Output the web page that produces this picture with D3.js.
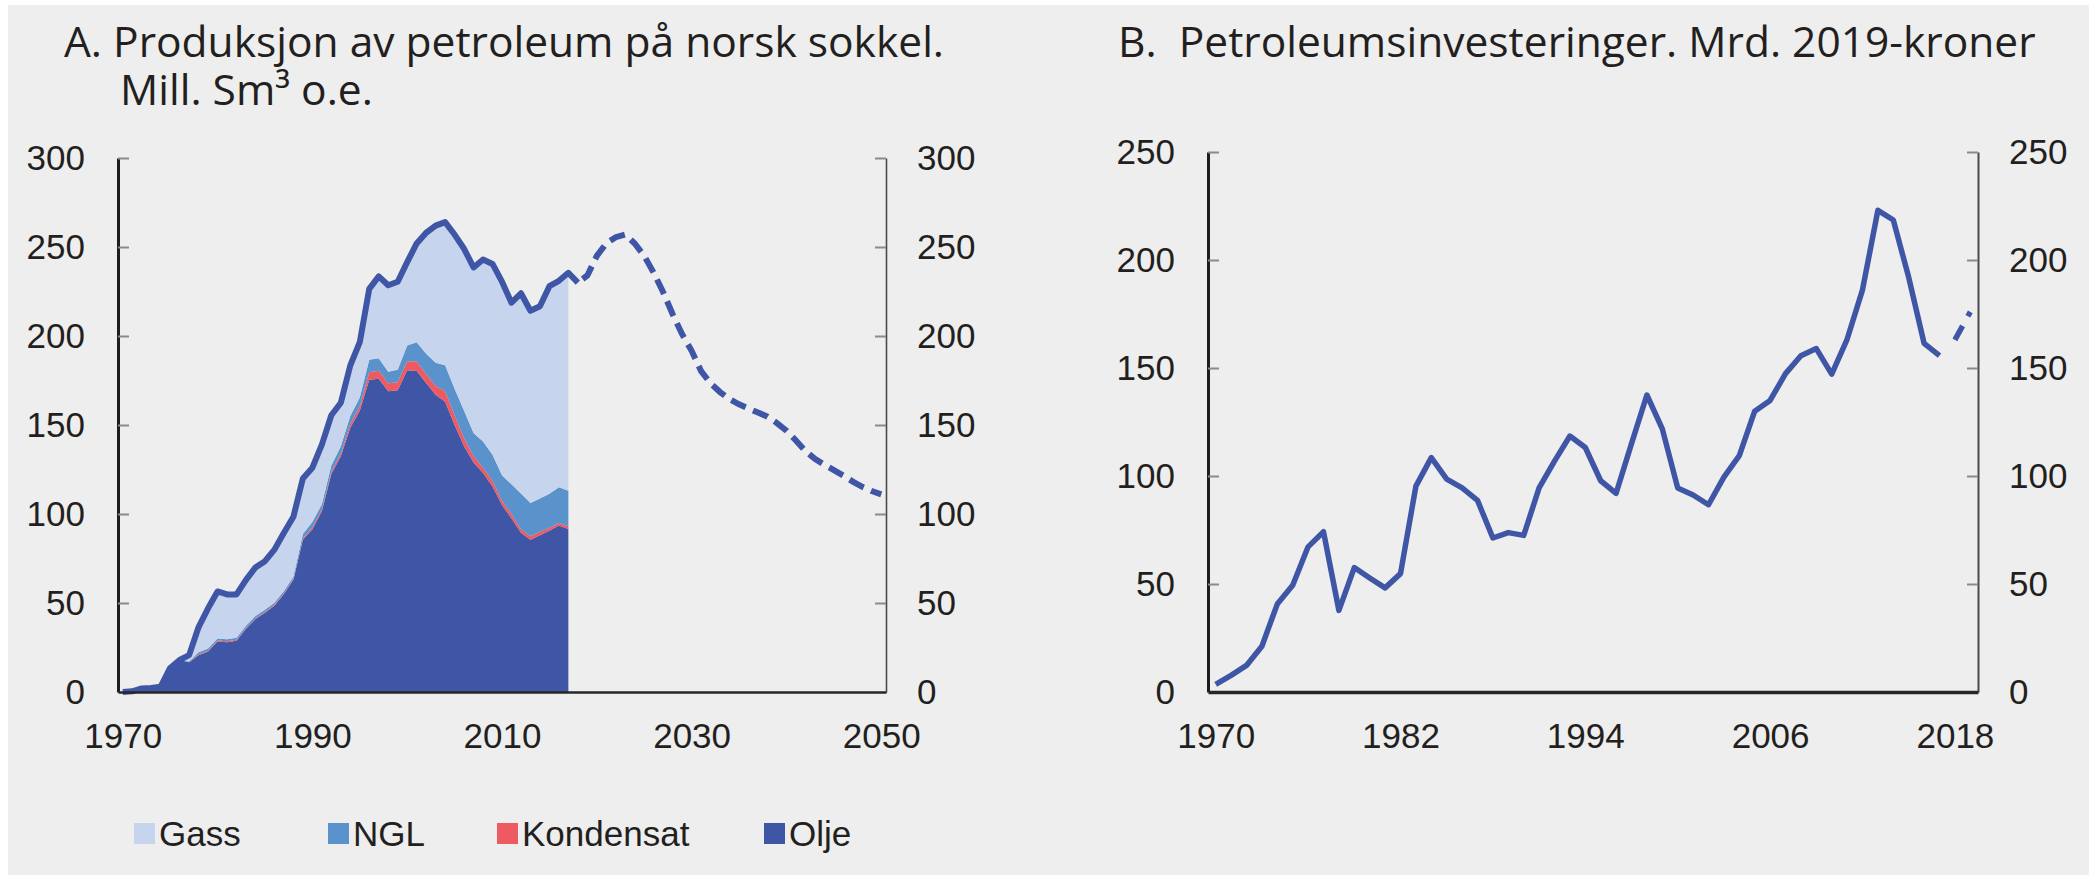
<!DOCTYPE html>
<html>
<head>
<meta charset="utf-8">
<script src="https://cdn.jsdelivr.net/npm/d3@7"></script>
<style>
    body { margin: 0; background: #fff; }
    text { font-family: "Liberation Sans", Arial, sans-serif; font-size: 35px; fill: #231f20; }
    .title { font-family: "Open Sans", sans-serif; font-size: 42.5px; white-space: pre; }
</style>
</head>
<body>
<svg id="chart" width="2089" height="880"></svg>
<script>
// Panel A: production on the Norwegian shelf, mill. Sm3 o.e.
const prodYears = d3.range(1970, 2018);
const olje = [0, 0.4, 2.0, 2.2, 3.0, 13.5, 18.0, 16.7, 20.7, 22.7,
    28.4, 28.0, 28.8, 35.5, 41.0, 44.5, 48.5, 55.0, 63.0, 85.5,
    91.5, 101.5, 122.5, 132.5, 148.5, 158.0, 175.4, 176.0, 168.9, 169.5,
    180.8, 180.4, 173.6, 167.0, 163.0, 150.0, 138.0, 129.0, 123.0, 115.5,
    105.0, 97.5, 89.5, 85.5, 88.0, 90.6, 93.5, 91.6];
const kondensat = [0, 0, 0, 0, 0, 0, 0, 0, 0.5, 0.5,
    0.5, 0.5, 0.5, 0.5, 0.5, 0.5, 0.5, 0.5, 0.5, 0.8,
    1.0, 1.0, 1.2, 1.5, 2.0, 2.5, 4.3, 4.5, 4.5, 4.5,
    5.0, 5.3, 5.0, 5.0, 6.0, 5.5, 4.5, 3.5, 3.0, 3.0,
    2.5, 2.5, 2.0, 2.0, 2.0, 1.5, 1.5, 1.5];
const ngl = [0, 0, 0, 0, 0, 0, 0, 0.5, 1.2, 1.2,
    1.2, 1.2, 1.2, 1.2, 1.2, 1.2, 1.2, 1.2, 1.2, 2.5,
    3.0, 3.0, 3.5, 4.0, 4.5, 5.0, 6.9, 7.0, 6.5, 7.0,
    8.9, 10.8, 11.4, 13.0, 14.5, 14.8, 15.5, 13.0, 14.8, 14.8,
    14.2, 16.7, 20.0, 18.7, 18.7, 19.3, 20.0, 20.0];
const gass = [0, 0, 0, 0, 0, 0, 0, 3.5, 14.1, 22.6,
    26.4, 25.1, 24.3, 25.8, 27.3, 27.3, 29.8, 32.8, 33.8, 31.2,
    30.5, 33.5, 28.3, 24.5, 28.5, 31.0, 39.9, 46.0, 48.6, 49.5,
    46.8, 55.5, 68.0, 77.0, 80.5, 86.7, 91.0, 93.0, 102.2, 107.2,
    108.8, 102.0, 112.5, 108.0, 108.0, 116.6, 116.0, 122.4];
// total line runs one year past the stacked components
const totalExtraYears = [2018];
const totalExtra = [230];
const prognoseYears = d3.range(2018, 2051);
const prognose = [230, 234, 245, 252, 255.5, 257, 252, 245, 235.5, 224.6,
    212.2, 201, 191.7, 180.3, 173.4, 168.5, 164.5, 161.6, 159.2, 157,
    154.7, 151.1, 146.8, 141.3, 135.4, 131, 127.7, 124.7, 121.6, 118.2,
    115.3, 112.9, 111];
const prodTicksX = [1970, 1990, 2010, 2030, 2050];
const prodTicksY = [0, 50, 100, 150, 200, 250, 300];

// Panel B: petroleum investments, bn 2019-kroner
const investYears = d3.range(1970, 2018);
const invest = [3.5, 7.7, 12.3, 21.2, 40.7, 49.4, 67.2, 74.2, 37.8, 57.6,
    52.8, 48.2, 54.8, 95.3, 108.5, 98.6, 94.5, 88.7, 71.3, 73.8,
    72.5, 94.5, 106.9, 118.5, 113.2, 97.8, 92.0, 115.0, 137.5, 121.8,
    94.5, 91.2, 86.7, 99.5, 109.4, 130.0, 135.0, 147.4, 155.7, 159.0,
    147.2, 163.3, 186.2, 223.0, 218.5, 192.0, 161.4, 155.7];
const investForecastYears = [2018, 2019];
const investForecast = [163, 176];
const investTicksX = [1970, 1982, 1994, 2006, 2018];
const investTicksY = [0, 50, 100, 150, 200, 250];

const legendKeys = ["gass", "ngl", "kondensat", "olje"];
const legendLabels = ["Gass", "NGL", "Kondensat", "Olje"];

const colors = { olje: "#3f55a5", kondensat: "#ee5a62", ngl: "#5a92cb", gass: "#c6d4ed" };
const lineColor = "#3f55a5";

const svg = d3.select("#chart");

// grey panel background
svg.append("rect")
    .attr("x", 8).attr("y", 5)
    .attr("width", 2081).attr("height", 870)
    .attr("fill", "#edeeed");

// Draw left, right and bottom axes for one panel
function drawAxes(x, y, ticksX, ticksY, opts) {
    const [x0, x1] = x.range();
    const g = svg.append("g");

    const left = g.append("g")
        .attr("transform", `translate(${x0},0)`)
        .call(d3.axisLeft(y).tickValues(ticksY).tickSize(-11).tickSizeOuter(0).tickPadding(33));
    const right = g.append("g")
        .attr("transform", `translate(${x1},0)`)
        .call(d3.axisRight(y).tickValues(ticksY).tickSize(-11).tickSizeOuter(0).tickPadding(31));
    const bottom = g.append("g")
        .attr("transform", `translate(0,${y(0)})`)
        .call(d3.axisBottom(x).tickValues(ticksX).tickSize(0).tickSizeOuter(0).tickPadding(31).tickFormat(d3.format("d")));

    g.selectAll("g").attr("font-size", null).attr("font-family", null);
    g.selectAll(".tick line").attr("stroke", "#8a8a8a").attr("stroke-width", 2);
    left.select(".domain").attr("stroke", "#1d1d1d").attr("stroke-width", 3);
    right.select(".domain").attr("stroke", "#4a4a4a").attr("stroke-width", opts.rightWidth);
    bottom.select(".domain").attr("stroke", "#262626").attr("stroke-width", opts.bottomWidth);
    left.select(".tick:first-of-type line").remove();
    right.select(".tick:first-of-type line").remove();
    return g;
}

// ---------- Panel A ----------
const xA = d3.scaleLinear().domain([1969.5, 2050.5]).range([118, 886]);
const yA = d3.scaleLinear().domain([0, 300]).range([692, 158]);

const rowsA = prodYears.map((yr, i) => ({
    year: yr, olje: olje[i], kondensat: kondensat[i], ngl: ngl[i], gass: gass[i]
}));
const stackA = d3.stack().keys(["olje", "kondensat", "ngl", "gass"])(rowsA);

const areaA = d3.area()
    .x(d => xA(d.data.year))
    .y0(d => yA(d[0]))
    .y1(d => yA(d[1]));

svg.append("g").selectAll("path")
    .data(stackA)
    .join("path")
    .attr("d", areaA)
    .attr("fill", d => colors[d.key]);

const lineA = d3.line().x(d => xA(d[0])).y(d => yA(d[1]));
const totalPts = stackA[stackA.length - 1].map(d => [d.data.year, d[1]])
    .concat(totalExtraYears.map((yr, i) => [yr, totalExtra[i]]));

svg.append("path")
    .attr("d", lineA(totalPts))
    .attr("fill", "none")
    .attr("stroke", lineColor)
    .attr("stroke-width", 6)
    .attr("stroke-linejoin", "round");

svg.append("path")
    .attr("d", lineA(prognoseYears.map((yr, i) => [yr, prognose[i]])))
    .attr("fill", "none")
    .attr("stroke", lineColor)
    .attr("stroke-width", 6)
    .attr("stroke-dasharray", "16,8")
    .attr("stroke-dashoffset", 18);

drawAxes(xA, yA, prodTicksX, prodTicksY, { rightWidth: 1.6, bottomWidth: 2.5 });

svg.append("text").attr("class", "title").attr("x", 64).attr("y", 57)
    .text("A. Produksjon av petroleum på norsk sokkel.");
svg.append("text").attr("class", "title").attr("x", 120).attr("y", 105)
    .text("Mill. Sm³ o.e.");

// legend
const legendX = [134, 328, 497, 764];
const legend = svg.append("g").selectAll("g")
    .data(legendKeys)
    .join("g")
    .attr("transform", (d, i) => `translate(${legendX[i]},823)`);
legend.append("rect").attr("width", 21).attr("height", 21).attr("fill", d => colors[d]);
legend.append("text").attr("x", 25).attr("y", 23).text((d, i) => legendLabels[i]);

// ---------- Panel B ----------
const xB = d3.scaleLinear().domain([1969.5, 2019.5]).range([1208, 1978]);
const yB = d3.scaleLinear().domain([0, 250]).range([692, 152]);

const lineB = d3.line().x(d => xB(d[0])).y(d => yB(d[1]));

svg.append("path")
    .attr("d", lineB(investYears.map((yr, i) => [yr, invest[i]])))
    .attr("fill", "none")
    .attr("stroke", lineColor)
    .attr("stroke-width", 5.5)
    .attr("stroke-linejoin", "round");

svg.append("path")
    .attr("d", lineB(investForecastYears.map((yr, i) => [yr, investForecast[i]])))
    .attr("fill", "none")
    .attr("stroke", lineColor)
    .attr("stroke-width", 5.5)
    .attr("stroke-dasharray", "16,11");

drawAxes(xB, yB, investTicksX, investTicksY, { rightWidth: 2, bottomWidth: 3.5 });

svg.append("text").attr("class", "title").attr("x", 1118).attr("y", 57)
    .text("B.  Petroleumsinvesteringer. Mrd. 2019-kroner");
</script>
</body>
</html>
